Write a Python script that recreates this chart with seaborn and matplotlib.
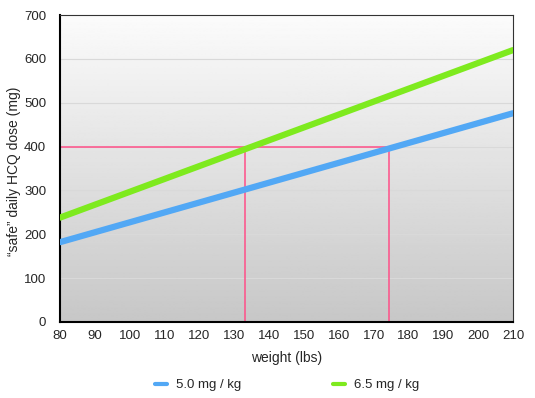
import numpy as np
import pandas as pd
import matplotlib
matplotlib.use("Agg")
import matplotlib.pyplot as plt
import seaborn as sns

# data
weights = [80, 210]
dose_5_0 = [182, 476]
dose_6_5 = [238, 620]
series_names = ["5.0 mg / kg", "6.5 mg / kg"]
series_colors = ["#52a8f5", "#7eea1e"]
marker_dose = 400
marker_weights = [133.2, 174.5]

df = pd.DataFrame({
    "weight": weights * 2,
    "dose": dose_5_0 + dose_6_5,
    "series": [series_names[0]] * 2 + [series_names[1]] * 2,
})

sns.set_style("white")
plt.rcParams["font.family"] = ["Liberation Sans", "DejaVu Sans"]

fig = plt.figure(figsize=(5.35, 3.98), dpi=100)
ax = fig.add_axes([60 / 535, 1 - 322 / 398, 453 / 535, 307 / 398])

# vertical gradient background
grad = np.linspace(0.985, 0.78, 256).reshape(-1, 1)
ax.imshow(grad, extent=[80, 210, 0, 700], aspect="auto", cmap="gray",
          vmin=0, vmax=1, origin="upper", zorder=0)

for y in range(100, 700, 100):
    ax.axhline(y, color="#d9d9d9", lw=0.8, zorder=1)

# pink guide lines
pink = "#ff4f88"
ax.plot([80, marker_weights[1]], [marker_dose, marker_dose], color=pink, lw=1.1, zorder=2)
for w in marker_weights:
    ax.plot([w, w], [0, marker_dose], color=pink, lw=1.1, zorder=2)

sns.lineplot(data=df, x="weight", y="dose", hue="series",
             palette=dict(zip(series_names, series_colors)),
             linewidth=4.5, ax=ax, legend=False, zorder=3)

ax.set_xlim(80, 210)
ax.set_ylim(0, 700)
ax.set_xticks(range(80, 211, 10))
ax.set_yticks(range(0, 701, 100))
ax.tick_params(axis="both", length=0, labelsize=9.5)
ax.tick_params(axis="y", pad=10)
ax.tick_params(axis="x", pad=6)
ax.set_xlabel("weight (lbs)", fontsize=10, labelpad=6)
ax.set_ylabel("\u201csafe\u201d daily HCQ dose (mg)", fontsize=10)
ax.yaxis.set_label_coords(-0.086, 0.49)

for side in ["left", "bottom"]:
    ax.spines[side].set_linewidth(1.5)
    ax.spines[side].set_color("black")
for side in ["top", "right"]:
    ax.spines[side].set_linewidth(0.8)
    ax.spines[side].set_color("#333333")

# legend: one entry each, placed below the axes
for name, color, x0 in zip(series_names, series_colors, [155, 333]):
    h = plt.Line2D([], [], color=color, lw=3)
    fig.legend([h], [name], loc="center left", bbox_to_anchor=(x0 / 535, 1 - 385 / 398),
               frameon=False, handlelength=0.9, handletextpad=0.7,
               borderpad=0, borderaxespad=0, fontsize=9.5)

fig.savefig("out.png", dpi=100)
